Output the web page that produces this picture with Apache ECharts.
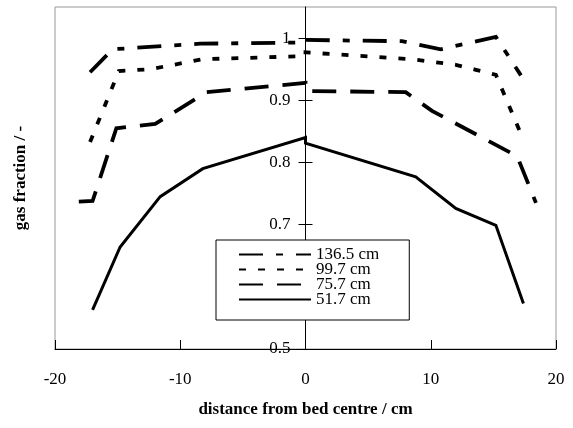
<!DOCTYPE html>
<html>
<head>
<meta charset="utf-8">
<script src="https://cdn.jsdelivr.net/npm/echarts@6/dist/echarts.min.js"></script>
<style>
  html, body { margin: 0; padding: 0; background: #fff; }
  #chart { width: 573px; height: 428px; }
</style>
</head>
<body>
<div id="chart"></div>
<script>
// Radial gas-fraction profiles at four heights in the bed
const seriesNames = ['136.5 cm', '99.7 cm', '75.7 cm', '51.7 cm'];

const pos1365 = [-17.2, -15.4, -8.4, 0, 0, 7.7, 10.8, 15.2, 17.2];
const frac1365 = [0.945, 0.982, 0.991, 0.993, 0.997, 0.995, 0.982, 1.002, 0.940];

const pos997 = [-17.2, -14.9, -12.4, -8.2, 0, 0, 8.5, 12.0, 13.6, 15.2, 17.2];
const frac997 = [0.833, 0.947, 0.950, 0.966, 0.971, 0.977, 0.966, 0.957, 0.949, 0.941, 0.846];

const pos757 = [-18.1, -17.0, -15.1, -12.0, -7.9, 0, 0, 8.0, 10.1, 16.9, 18.4];
const frac757 = [0.737, 0.738, 0.855, 0.862, 0.913, 0.928, 0.915, 0.913, 0.883, 0.810, 0.735];

const pos517 = [-17.0, -14.8, -11.6, -8.2, 0, 0, 8.8, 12.0, 15.2, 17.4];
const frac517 = [0.563, 0.664, 0.745, 0.790, 0.840, 0.831, 0.777, 0.726, 0.699, 0.573];

const xTicks = [-20, -10, 0, 10, 20];
const yTicks = [0.5, 0.6, 0.7, 0.8, 0.9, 1];

const zip = (xs, ys) => xs.map((x, i) => [x, ys[i]]);

const serif = 'Liberation Serif';
const lineDefs = [
  { data: zip(pos1365, frac1365), dash: [24, 13, 7, 13], width: 3.8 },
  { data: zip(pos997, frac997), dash: [7, 12], width: 3.8 },
  { data: zip(pos757, frac757), dash: [24, 14], width: 3.8 },
  { data: zip(pos517, frac517), dash: 'solid', width: 3 }
];

// plot box in pixels
const gridLeft = 55, gridRight = 17;
const plotWidth = 573 - gridLeft - gridRight;
// the vertical axis is drawn through x = 0 (the bed centre)
const centreOffset = -plotWidth / 2;

const chart = echarts.init(document.getElementById('chart'), null, { renderer: 'canvas' });

const yBase = { type: 'value', min: 0.5, max: 1.05, splitLine: { show: false } };

chart.setOption({
  animation: false,
  backgroundColor: '#fff',
  grid: {
    left: gridLeft, right: gridRight, top: 7, bottom: 79,
    containLabel: false, outerBoundsMode: 'none',
    show: true, borderColor: '#999', borderWidth: 1, backgroundColor: 'transparent'
  },
  legend: {
    orient: 'vertical',
    left: 216, top: 240,
    padding: [6, 30, 12, 22],
    itemGap: -2,
    itemWidth: 72, itemHeight: 14,
    backgroundColor: '#fff',
    borderColor: '#000', borderWidth: 1, borderRadius: 0,
    data: seriesNames,
    itemStyle: { color: 'rgba(0,0,0,0)', borderWidth: 0, opacity: 0 },
    textStyle: { fontFamily: serif, fontSize: 17, color: '#000' }
  },
  xAxis: {
    type: 'value', min: -20, max: 20, interval: 10,
    name: 'distance from bed centre / cm',
    nameLocation: 'middle', nameGap: 52,
    nameTextStyle: { fontFamily: serif, fontSize: 17, fontWeight: 'bold', color: '#000' },
    axisLine: { show: true, onZero: false, lineStyle: { color: '#000', width: 1 } },
    axisTick: { show: true, inside: true, length: 9, lineStyle: { color: '#000' },
                customValues: xTicks },
    axisLabel: { margin: 22, fontFamily: serif, fontSize: 17, color: '#000',
                 customValues: xTicks },
    splitLine: { show: false }
  },
  yAxis: [
    Object.assign({}, yBase, {
      position: 'left', offset: centreOffset,
      axisLine: { show: true, onZero: false, lineStyle: { color: '#000', width: 1 } },
      axisTick: { show: true, length: 7, lineStyle: { color: '#000' }, customValues: yTicks },
      axisLabel: { margin: 15, fontFamily: serif, fontSize: 17, color: '#000',
                   customValues: yTicks, formatter: v => String(+v.toFixed(2)) }
    }),
    Object.assign({}, yBase, {
      position: 'left', offset: centreOffset,
      axisLine: { show: false, onZero: false },
      axisTick: { show: true, inside: true, length: 7, lineStyle: { color: '#000' }, customValues: yTicks },
      axisLabel: { show: false }
    }),
    Object.assign({}, yBase, {
      position: 'left',
      name: 'gas fraction / -',
      nameLocation: 'middle', nameGap: 26,
      nameTextStyle: { fontFamily: serif, fontSize: 17, fontWeight: 'bold', color: '#000' },
      axisLine: { show: false, onZero: false },
      axisTick: { show: false },
      axisLabel: { show: false }
    })
  ],
  series: lineDefs.map((d, i) => ({
    name: seriesNames[i],
    type: 'line',
    xAxisIndex: 0, yAxisIndex: 0,
    data: d.data,
    symbol: 'none',
    smooth: false,
    lineStyle: { color: '#000', width: d.width, type: d.dash, cap: 'butt', join: 'miter' },
    itemStyle: { color: '#000' },
    z: 3
  }))
});
</script>
</body>
</html>
